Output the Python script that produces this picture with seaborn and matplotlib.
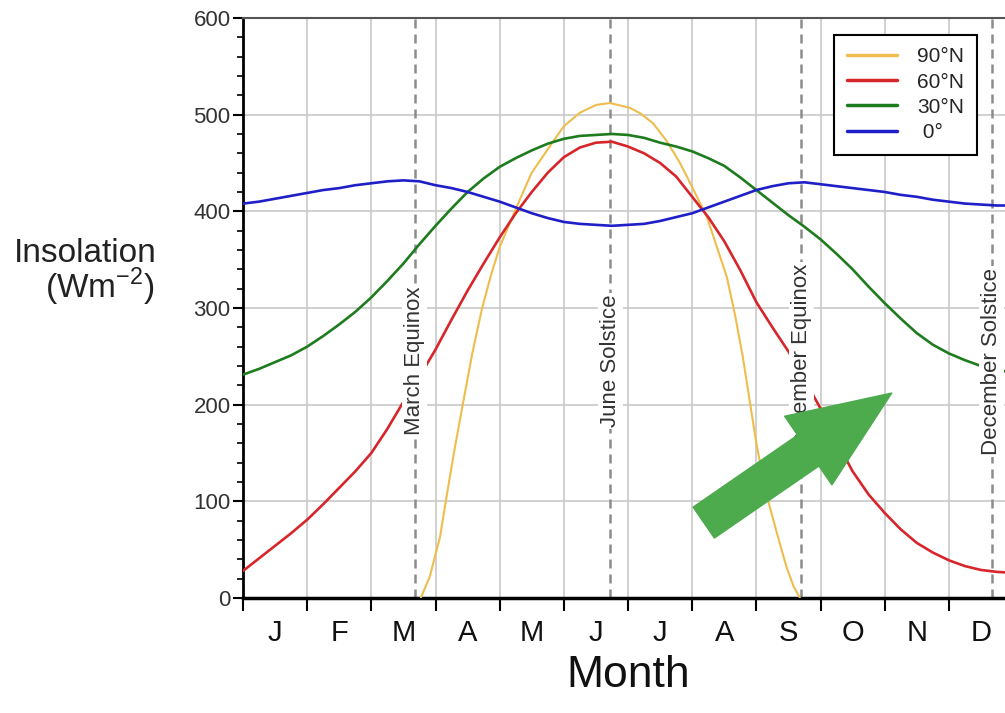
import numpy as np
import pandas as pd
import seaborn as sns
import matplotlib.pyplot as plt
from matplotlib.ticker import MultipleLocator

# month position: 0 = 1 Jan, 12 = end of Dec, read every quarter month
qmonth = [i / 4 for i in range(49)]
eq_0 = [408, 410, 413, 416, 419, 422, 424, 427, 429, 431, 432, 431, 427,
        424, 420, 415, 410, 404, 398, 393, 389, 387, 386, 385, 386,
        387, 390, 394, 398, 404, 410, 416, 422, 426, 429, 430, 428,
        426, 424, 422, 420, 417, 415, 412, 410, 408, 407, 406, 406]
n30 = [231, 237, 244, 251, 260, 271, 283, 296, 311, 328, 346, 366, 385,
       403, 420, 434, 446, 455, 463, 470, 475, 478, 479, 480, 479,
       476, 471, 467, 462, 455, 447, 435, 422, 409, 396, 384, 371,
       356, 340, 322, 305, 289, 274, 262, 253, 246, 240, 236, 233]
n60 = [28, 41, 54, 67, 81, 97, 114, 131, 150, 175, 203, 229, 257,
       288, 318, 346, 373, 398, 420, 440, 456, 466, 471, 472, 467,
       460, 450, 436, 415, 394, 369, 339, 306, 280, 255, 226, 196,
       162, 131, 107, 88, 71, 57, 47, 39, 33, 29, 27, 26]

polar_month = [2.77, 2.91, 3.07, 3.18, 3.3, 3.43, 3.57, 3.72, 3.86, 4.0, 4.28,
               4.5, 4.83, 5.0, 5.25, 5.5, 5.72, 6.03, 6.2, 6.39, 6.6, 6.81,
               7.0, 7.23, 7.54, 7.67, 7.79, 8.0, 8.1, 8.21, 8.35, 8.47, 8.58, 8.68]
n90 = [0, 22, 63, 108, 155, 202, 252, 298, 333, 363, 407,
       440, 472, 488, 502, 510, 512, 507, 501, 491, 473, 450,
       425, 394, 332, 292, 249, 160, 125, 94, 60, 32, 12, 0]

month_labels = ['J', 'F', 'M', 'A', 'M', 'J', 'J', 'A', 'S', 'O', 'N', 'D']
events = ['March Equinox', 'June Solstice', 'September Equinox', 'December Solstice']
event_month = [2.68, 5.72, 8.70, 11.67]

sns.set_style('white')
plt.rcParams['font.family'] = ['Liberation Sans', 'DejaVu Sans']
plt.rcParams['mathtext.fontset'] = 'custom'
plt.rcParams['mathtext.rm'] = 'Liberation Sans'

fig = plt.figure(figsize=(10.05, 7.13), dpi=100)
ax = fig.add_axes([0.2418, 0.1613, 0.7662, 0.8135])

series = [('90°N', polar_month, n90, '#EEBD4E', 1.5),
          ('60°N', qmonth, n60, '#D7262B', 1.9),
          ('30°N', qmonth, n30, '#1E7B1E', 1.9),
          (' 0°', qmonth, eq_0, '#1F1FC8', 1.9)]
for lab, xs, ys, col, lw in series:
    d = pd.DataFrame({'month': xs, 'insolation': ys})
    sns.lineplot(data=d, x='month', y='insolation', color=col, linewidth=lw,
                 label=lab, ax=ax, zorder=3)

for name, m in zip(events, event_month):
    ax.axvline(m, color='#8c8c8c', lw=1.8, ls=(0, (3.6, 2.4)), zorder=2)
    ax.text(m, 245, name, rotation=90, ha='center', va='center', fontsize=16,
            color='#333333', zorder=5,
            bbox=dict(facecolor='white', edgecolor='none', pad=1.5))

ax.annotate('', xy=(10.11, 212), xytext=(7.18, 78), zorder=6,
            arrowprops=dict(arrowstyle='simple,head_length=7.3,head_width=6.0,tail_width=2.7',
                            mutation_scale=10, color='#4DAA4D', shrinkA=0, shrinkB=0))

ax.set_xlim(0, 12)
ax.set_ylim(0, 600)
ax.set_xticks(range(13))
ax.set_xticklabels([])
ax.set_xticks(np.arange(0.5, 12, 1), minor=True)
ax.set_xticklabels(month_labels, minor=True)
ax.set_yticks(range(0, 601, 100))
ax.yaxis.set_minor_locator(MultipleLocator(20))
ax.tick_params(axis='x', which='major', direction='out', length=9, width=1.5,
               color='black', bottom=True)
ax.tick_params(axis='x', which='minor', length=0, pad=15, labelsize=21,
               labelcolor='#111111')
ax.tick_params(axis='y', which='major', direction='out', length=7.5, width=1.5,
               color='black', left=True, pad=1.5, labelsize=16, labelcolor='#333333')
ax.tick_params(axis='y', which='minor', direction='out', length=4, width=1.2,
               color='black', left=True)
ax.grid(True, which='major', color='#c8c8c8', lw=1.2)
ax.set_axisbelow(True)
ax.set_xlabel('')
ax.set_ylabel('')

ax.spines['left'].set_color('black')
ax.spines['left'].set_linewidth(2)
ax.spines['bottom'].set_color('black')
ax.spines['bottom'].set_linewidth(2.5)
ax.spines['top'].set_color('#555555')
ax.spines['top'].set_linewidth(1.5)

leg = ax.legend(loc='upper right', bbox_to_anchor=(0.953, 0.971), borderaxespad=0,
                fontsize=15, frameon=True, fancybox=False, framealpha=1,
                edgecolor='black', handlelength=2.4, labelspacing=0.3,
                borderpad=0.6, handletextpad=1.0)
leg.get_frame().set_linewidth(1.5)
for h in leg.get_lines():
    h.set_linewidth(2.5)

fig.text(0.0846, 0.6325, 'Insolation', ha='center', va='baseline', fontsize=24,
         color='#222222')
fig.text(0.0995, 0.582, '(Wm$^{\\mathregular{-2}}$)', ha='center', va='baseline',
         fontsize=24, color='#222222')
fig.text(0.625, 0.037, 'Month', ha='center', va='baseline', fontsize=32,
         color='#111111')

fig.savefig('out.png', dpi=100)
